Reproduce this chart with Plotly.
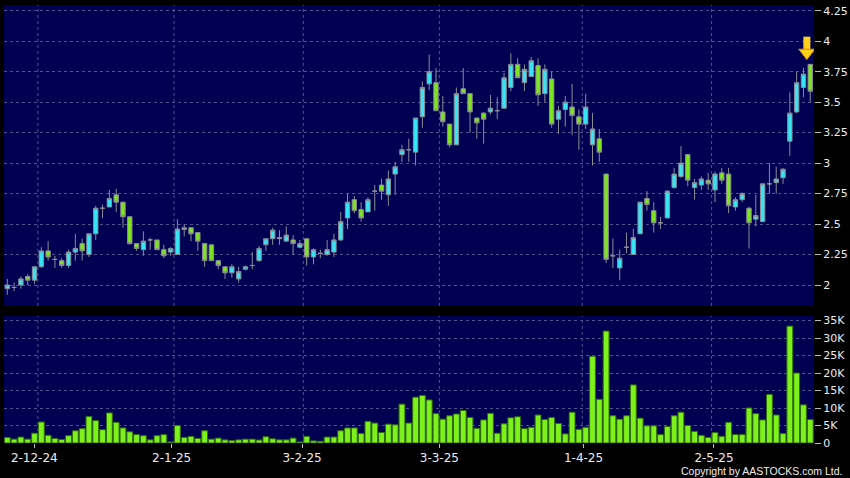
import pandas as pd
import plotly.graph_objects as go
from plotly.subplots import make_subplots

# ---------------- data ----------------
holidays = ["2024-12-25", "2024-12-26", "2025-01-01", "2025-01-29", "2025-01-30",
            "2025-01-31", "2025-04-04", "2025-04-18", "2025-04-21", "2025-05-01", "2025-05-05"]
dates = [d for d in pd.bdate_range("2024-11-26", "2025-05-26")
         if d.strftime("%Y-%m-%d") not in holidays]

opens = [1.97, 1.98, 2.00, 2.07, 2.04, 2.15, 2.28, 2.21, 2.20, 2.16,
         2.27, 2.34, 2.25, 2.42, 2.63, 2.64, 2.74, 2.68, 2.56, 2.34,
         2.29, 2.37, 2.37, 2.29, 2.27, 2.25, 2.455, 2.47, 2.43, 2.34,
         2.33, 2.20, 2.15, 2.10, 2.05, 2.13, 2.16, 2.20, 2.33, 2.38,
         2.39, 2.36, 2.37, 2.31, 2.38, 2.23, 2.26, 2.25, 2.27, 2.37,
         2.55, 2.70, 2.62, 2.60, 2.77, 2.82, 2.74, 2.91, 3.07, 3.11,
         3.09, 3.38, 3.65, 3.66, 3.42, 3.32, 3.15, 3.61, 3.57, 3.37,
         3.41, 3.42, 3.43, 3.45, 3.62, 3.81, 3.66, 3.71, 3.80, 3.57,
         3.69, 3.36, 3.44, 3.46, 3.38, 3.32, 3.15, 3.20, 2.91, 2.24,
         2.14, 2.31, 2.25, 2.42, 2.71, 2.61, 2.51, 2.55, 2.80, 2.89,
         3.07, 2.80, 2.82, 2.86, 2.78, 2.92, 2.91, 2.64, 2.70, 2.63,
         2.54, 2.52, 2.83, 2.84, 2.88, 3.18, 3.42, 3.62, 3.81]

highs = [2.05, 2.02, 2.07, 2.09, 2.15, 2.31, 2.36, 2.24, 2.22, 2.29,
         2.42, 2.38, 2.42, 2.65, 2.66, 2.78, 2.79, 2.68, 2.56, 2.34,
         2.44, 2.39, 2.37, 2.33, 2.31, 2.54, 2.50, 2.47, 2.43, 2.34,
         2.33, 2.20, 2.15, 2.17, 2.15, 2.16, 2.27, 2.32, 2.38, 2.47,
         2.45, 2.48, 2.41, 2.37, 2.38, 2.30, 2.29, 2.37, 2.42, 2.60,
         2.75, 2.73, 2.68, 2.72, 2.82, 2.87, 2.94, 3.01, 3.15, 3.20,
         3.37, 3.67, 3.89, 3.78, 3.55, 3.32, 3.62, 3.78, 3.57, 3.37,
         3.42, 3.56, 3.54, 3.74, 3.90, 3.86, 3.81, 3.87, 3.86, 3.81,
         3.75, 3.47, 3.55, 3.65, 3.44, 3.57, 3.41, 3.28, 2.91, 2.38,
         2.29, 2.43, 2.46, 2.68, 2.77, 2.68, 2.56, 2.78, 2.96, 3.14,
         3.07, 2.87, 2.89, 2.92, 2.93, 2.96, 2.96, 2.72, 2.76, 2.64,
         2.74, 2.83, 3.00, 2.97, 2.96, 3.58, 3.75, 3.78, 3.81]

lows = [1.92, 1.95, 1.97, 2.00, 2.01, 2.14, 2.20, 2.14, 2.14, 2.14,
        2.20, 2.20, 2.23, 2.37, 2.55, 2.64, 2.60, 2.47, 2.33, 2.28,
        2.24, 2.29, 2.29, 2.22, 2.24, 2.25, 2.40, 2.36, 2.28, 2.15,
        2.20, 2.13, 2.05, 2.06, 2.02, 2.12, 2.13, 2.19, 2.28, 2.33,
        2.33, 2.36, 2.25, 2.30, 2.16, 2.17, 2.22, 2.24, 2.23, 2.36,
        2.46, 2.59, 2.52, 2.60, 2.61, 2.70, 2.65, 2.74, 3.01, 3.01,
        2.98, 3.29, 3.60, 3.43, 3.30, 3.13, 3.15, 3.57, 3.25, 3.20,
        3.16, 3.40, 3.36, 3.45, 3.59, 3.70, 3.59, 3.71, 3.47, 3.50,
        3.29, 3.24, 3.30, 3.23, 3.11, 3.28, 2.98, 3.01, 2.18, 2.14,
        2.04, 2.26, 2.25, 2.42, 2.61, 2.43, 2.46, 2.55, 2.79, 2.88,
        2.81, 2.70, 2.78, 2.78, 2.68, 2.83, 2.59, 2.61, 2.68, 2.30,
        2.48, 2.52, 2.75, 2.75, 2.83, 3.06, 3.41, 3.54, 3.50]

closes = [2.00, 1.98, 2.05, 2.04, 2.15, 2.28, 2.23, 2.21, 2.16, 2.27,
          2.30, 2.28, 2.42, 2.63, 2.63, 2.71, 2.68, 2.56, 2.34, 2.30,
          2.36, 2.37, 2.29, 2.24, 2.30, 2.46, 2.47, 2.42, 2.36, 2.20,
          2.20, 2.16, 2.10, 2.15, 2.11, 2.15, 2.16, 2.30, 2.38, 2.45,
          2.38, 2.41, 2.34, 2.34, 2.23, 2.29, 2.26, 2.29, 2.37, 2.52,
          2.68, 2.61, 2.55, 2.70, 2.77, 2.77, 2.87, 2.97, 3.11, 3.11,
          3.37, 3.62, 3.75, 3.43, 3.34, 3.15, 3.57, 3.57, 3.42, 3.33,
          3.36, 3.45, 3.43, 3.70, 3.81, 3.70, 3.77, 3.84, 3.56, 3.77,
          3.32, 3.43, 3.50, 3.39, 3.32, 3.46, 3.28, 3.09, 2.21, 2.24,
          2.22, 2.31, 2.39, 2.68, 2.66, 2.51, 2.51, 2.77, 2.91, 3.00,
          2.86, 2.84, 2.87, 2.83, 2.91, 2.86, 2.65, 2.70, 2.75, 2.51,
          2.57, 2.83, 2.83, 2.87, 2.95, 3.41, 3.66, 3.73, 3.59]

volume_k = [1.6, 1.1, 1.7, 1.1, 2.8, 6.0, 2.2, 1.3, 1.0, 2.1,
            3.5, 4.1, 7.6, 6.4, 3.8, 8.6, 5.9, 4.3, 3.2, 2.4,
            2.1, 0.9, 2.1, 2.4, 0.3, 5.0, 1.6, 1.9, 1.3, 3.5,
            1.1, 1.4, 0.9, 0.7, 0.9, 1.1, 1.1, 0.85, 1.8, 1.2,
            0.9, 0.9, 1.4, 0.3, 1.9, 0.6, 0.5, 1.7, 1.7, 3.5,
            4.3, 4.3, 2.7, 6.2, 5.7, 3.0, 5.4, 5.2, 11.1, 5.7,
            13.1, 13.6, 12.3, 8.4, 6.8, 7.8, 8.3, 9.3, 7.3, 4.2,
            6.6, 8.5, 2.8, 5.5, 7.2, 7.5, 4.1, 4.5, 8.0, 6.7,
            7.3, 5.6, 2.6, 8.8, 3.9, 4.5, 24.8, 12.5, 32.0, 7.8,
            6.8, 7.8, 16.6, 7.1, 4.9, 4.9, 2.4, 4.7, 7.8, 8.8,
            5.0, 3.3, 2.2, 1.6, 3.0, 1.9, 5.9, 2.4, 2.4, 10.0,
            8.4, 6.6, 13.9, 8.0, 2.7, 33.4, 20.0, 10.9, 6.7]
volume = [v * 1000 for v in volume_k]

price_ticks = [2, 2.25, 2.5, 2.75, 3, 3.25, 3.5, 3.75, 4, 4.25]
price_tick_text = ["2", "2.25", "2.5", "2.75", "3", "3.25", "3.5", "3.75", "4", "4.25"]
vol_ticks = [0, 5000, 10000, 15000, 20000, 25000, 30000, 35000]
vol_tick_text = ["0", "5K", "10K", "15K", "20K", "25K", "30K", "35K"]

# ---------------- styling ----------------
NAVY = "#000052"
UP = "#36e4f4"
DOWN = "#7ee41f"
OUTLINE = "#8c8c96"
VOLC = "#7ef01c"
VOL_OUT = "#2f6e0c"
GRID = "#52528e"
TXT = "#ececec"
FONT = "DejaVu Sans"
LABEL_STRETCH = 1.0089   # label axis of source is slightly stretched vs candles

idx = list(range(len(dates)))
month_first = []
for i, d in enumerate(dates):
    if i > 0 and d.month != dates[i - 1].month:
        month_first.append(i)
tick_pos = [i * LABEL_STRETCH - 0.066 for i in month_first]
tick_text = [f"{dates[i].day}-{dates[i].month}-{dates[i].year % 100}" for i in month_first]
grid_pos = [i + 0.5 for i in month_first]

xr = [-0.485, len(idx) - 1 + 0.55]

fig = make_subplots(rows=2, cols=1, shared_xaxes=True)

fig.add_trace(go.Candlestick(
    x=idx, open=opens, high=highs, low=lows, close=closes,
    increasing=dict(fillcolor=UP, line=dict(color=OUTLINE, width=1)),
    decreasing=dict(fillcolor=DOWN, line=dict(color=OUTLINE, width=1)),
    whiskerwidth=0, showlegend=False, hoverinfo="skip"), row=1, col=1)

fig.add_trace(go.Bar(
    x=idx, y=volume,
    marker=dict(color=VOLC, line=dict(color=VOL_OUT, width=1)),
    showlegend=False, hoverinfo="skip"), row=2, col=1)

# arrow marker above last candle
last = idx[-1]
fig.add_trace(go.Scatter(
    x=[last - 0.5], y=[highs[-1] + 0.17], mode="markers",
    marker=dict(symbol="line-ns", size=10, line=dict(color="#ffd21a", width=7)),
    showlegend=False, hoverinfo="skip"), row=1, col=1)
fig.add_trace(go.Scatter(
    x=[last - 0.5], y=[highs[-1] + 0.096], mode="markers",
    marker=dict(symbol="triangle-down", size=14, color="#ffd21a",
                line=dict(color="#d98a00", width=1)),
    showlegend=False, hoverinfo="skip"), row=1, col=1)

shapes = []
for g in grid_pos:
    for xref, yref in (("x", "y domain"), ("x2", "y2 domain")):
        shapes.append(dict(type="line", xref=xref, yref=yref, x0=g, x1=g, y0=0, y1=1,
                           line=dict(color=GRID, width=1, dash="3px,3px"), layer="below"))

fig.update_layout(
    width=850, height=478,
    margin=dict(l=4, r=36, t=5, b=35, autoexpand=False),
    paper_bgcolor="#000000", plot_bgcolor=NAVY,
    boxgap=0.08, bargap=0.14,
    shapes=shapes,
    showlegend=False,
    font=dict(family=FONT, color=TXT, size=11),
    xaxis=dict(range=xr, showgrid=False, showticklabels=False, zeroline=False,
               showline=False, rangeslider=dict(visible=False), ticks=""),
    xaxis2=dict(range=xr, showgrid=False, zeroline=False, showline=False,
                tickmode="array", tickvals=tick_pos, ticktext=tick_text,
                ticks="outside", ticklen=4, tickcolor="#bbbbbb", automargin=False,
                tickfont=dict(family=FONT, size=12, color=TXT),
                rangeslider=dict(visible=False)),
    yaxis=dict(domain=[0.3128, 1], range=[1.828, 4.297], side="right",
               tickmode="array", tickvals=price_ticks, ticktext=price_tick_text,
               showgrid=True, gridcolor=GRID, griddash="3px,3px", gridwidth=1,
               zeroline=False, showline=False, ticks="outside", ticklen=6,
               automargin=False,
               tickcolor="#bbbbbb", tickfont=dict(family=FONT, size=11, color=TXT)),
    yaxis2=dict(domain=[0, 0.29], range=[0, 36300], side="right",
                tickmode="array", tickvals=vol_ticks, ticktext=vol_tick_text,
                showgrid=True, gridcolor=GRID, griddash="3px,3px", gridwidth=1,
                zeroline=False, showline=False, ticks="outside", ticklen=6,
                automargin=False,
                tickcolor="#bbbbbb", tickfont=dict(family=FONT, size=11, color=TXT)),
    annotations=[dict(text="Copyright by AASTOCKS.com Ltd.", xref="paper", yref="paper",
                      x=1.037, y=-0.064, xanchor="right", yanchor="middle",
                      showarrow=False, font=dict(family="Liberation Sans", size=10.5, color=TXT))],
)

fig.write_html("out.html", config={"displayModeBar": False},
               post_script="document.body.style.margin='0px';document.body.style.background='#000';")
